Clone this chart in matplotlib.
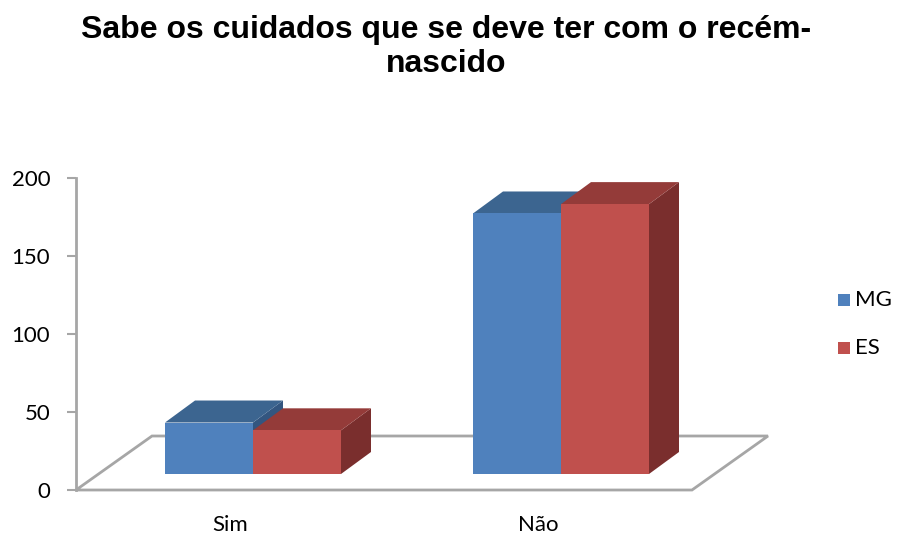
import numpy as np
import matplotlib.pyplot as plt
from matplotlib.patches import Polygon

# dados
categorias = ['Sim', 'Não']
series = ['MG', 'ES']
valores_mg = [33, 167]
valores_es = [28, 173]

cores_frente = {'MG': '#4F81BD', 'ES': '#C0504D'}
cores_topo = {'MG': '#3C6590', 'ES': '#943B39'}
cores_lado = {'MG': '#335680', 'ES': '#7A2E2D'}

plt.rcParams['font.family'] = ['Lato', 'DejaVu Sans']

fig = plt.figure(figsize=(9.01, 5.35), dpi=100)
ax = fig.add_axes([76 / 901, 45 / 535, 616 / 901, 312 / 535])
ax.set_xlim(0, 2)
ax.set_ylim(0, 200)

# parametros da perspectiva (em unidades de dados)
px_x = 616 / 2.0      # pixels por unidade x
px_y = 312 / 200.0    # pixels por unidade y
chao_dx, chao_dy = 76 / px_x, 54 / px_y
desl_dx, desl_dy = 23 / px_x, 16 / px_y
prof_dx, prof_dy = 30 / px_x, 22 / px_y
largura = 88 / px_x

cinza = '#A6A6A6'

# chao
chao = Polygon([(0, 0), (2, 0), (2 + chao_dx, chao_dy), (chao_dx, chao_dy)],
               closed=True, facecolor='none', edgecolor=cinza, lw=2,
               clip_on=False, zorder=1)
ax.add_patch(chao)

def barra(x0, v, serie):
    x0 = x0 + desl_dx
    y0 = desl_dy
    x1 = x0 + largura
    y1 = y0 + v
    frente = [(x0, y0), (x1, y0), (x1, y1), (x0, y1)]
    topo = [(x0, y1), (x1, y1), (x1 + prof_dx, y1 + prof_dy), (x0 + prof_dx, y1 + prof_dy)]
    lado = [(x1, y0), (x1 + prof_dx, y0 + prof_dy), (x1 + prof_dx, y1 + prof_dy), (x1, y1)]
    for pts, cor in [(lado, cores_lado[serie]), (topo, cores_topo[serie]),
                     (frente, cores_frente[serie])]:
        ax.add_patch(Polygon(pts, closed=True, facecolor=cor, edgecolor='none',
                             clip_on=False, zorder=3))

centros = np.arange(len(categorias)) + 0.5
for i, c in enumerate(centros):
    barra(c - largura, valores_mg[i], 'MG')
    barra(c, valores_es[i], 'ES')

# eixos
for s in ['top', 'right', 'bottom']:
    ax.spines[s].set_visible(False)
ax.spines['left'].set_color(cinza)
ax.spines['left'].set_linewidth(2)
ax.set_yticks([0, 50, 100, 150, 200])
ax.tick_params(axis='y', length=6.5, width=1.5, color=cinza, pad=12, labelsize=16)
ax.set_xticks(centros)
ax.set_xticklabels(categorias)
ax.tick_params(axis='x', length=0, pad=18, labelsize=16)

# legenda
for j, s in enumerate(series):
    yy = 1 - (300 + 48 * j) / 535
    fig.patches.append(plt.Rectangle((838 / 901, yy - 6 / 535), 12 / 901, 12 / 535,
                                     transform=fig.transFigure, facecolor=cores_frente[s],
                                     edgecolor='none'))
    fig.text(855 / 901, yy, s, fontsize=16, va='center', ha='left')

fig.text(446 / 901, 1 - 47 / 535, 'Sabe os cuidados que se deve ter com o recém-\nnascido',
         ha='center', va='center', fontsize=23, fontweight='bold',
         family=['Liberation Sans', 'DejaVu Sans'])

fig.savefig('out.png', dpi=100)
